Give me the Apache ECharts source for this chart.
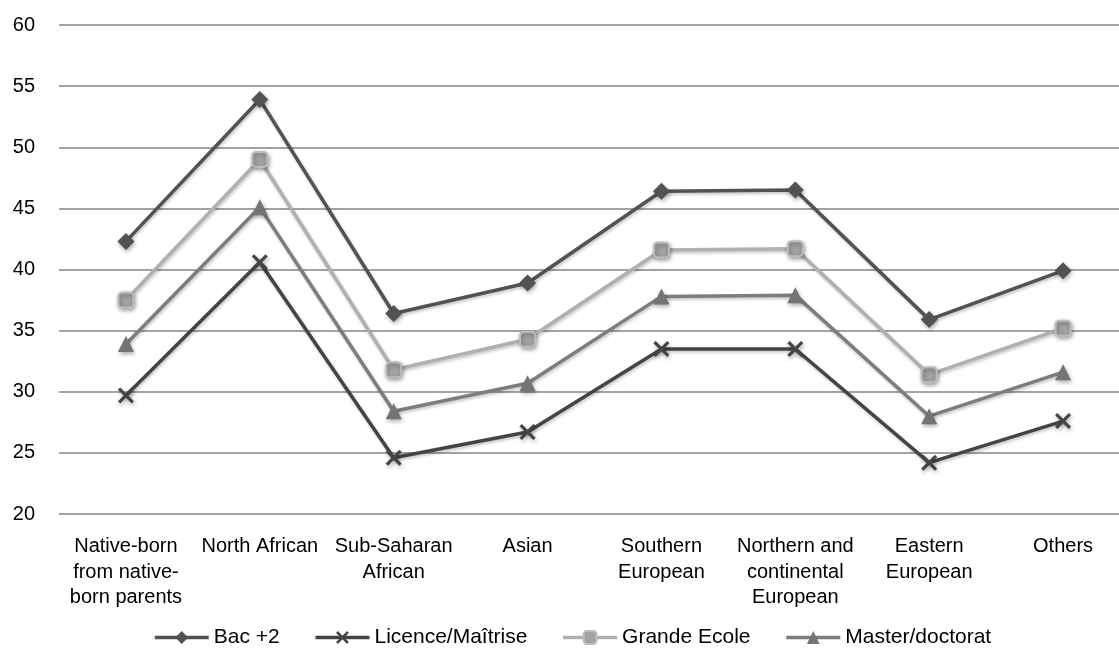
<!DOCTYPE html>
<html>
<head>
<meta charset="utf-8">
<script src="https://cdn.jsdelivr.net/npm/echarts@6/dist/echarts.min.js"></script>
<style>
html,body{margin:0;padding:0;background:#fff;}
#chart{width:1119px;height:664px;}
</style>
</head>
<body>
<div id="chart"></div>
<script>
const categories = ['Native-born\nfrom native-\nborn parents', 'North African', 'Sub-Saharan\nAfrican', 'Asian', 'Southern\nEuropean', 'Northern and\ncontinental\nEuropean', 'Eastern\nEuropean', 'Others'];
const seriesNames = ['Bac +2', 'Licence/Maîtrise', 'Grande Ecole', 'Master/doctorat'];
const bac2 = [42.3, 53.9, 36.4, 38.9, 46.4, 46.5, 35.9, 39.9];
const licence = [29.7, 40.6, 24.6, 26.7, 33.5, 33.5, 24.2, 27.6];
const grandeEcole = [37.5, 49.0, 31.8, 34.3, 41.6, 41.7, 31.4, 35.2];
const master = [33.9, 45.1, 28.4, 30.7, 37.8, 37.9, 28.0, 31.6];
const yTicks = [20, 25, 30, 35, 40, 45, 50, 55, 60];

const FONT = "'Liberation Sans', Arial, sans-serif";
const xPath = 'path://M0,1.4 L1.4,0 L5,3.6 L8.6,0 L10,1.4 L6.4,5 L10,8.6 L8.6,10 L5,6.4 L1.4,10 L0,8.6 L3.6,5 Z';

const markerShadow = {shadowBlur: 4, shadowColor: 'rgba(0,0,0,0.35)', shadowOffsetX: 1, shadowOffsetY: 2};
const lineShadow = {shadowBlur: 3, shadowColor: 'rgba(0,0,0,0.22)', shadowOffsetX: 1, shadowOffsetY: 2};

function mk(name, data, color, symbol, size, extraItem) {
  return {
    name: name, type: 'line', data: data,
    symbol: symbol, symbolSize: size,
    lineStyle: Object.assign({color: color, width: 3.5}, lineShadow),
    itemStyle: Object.assign({color: color}, markerShadow, extraItem || {}),
    emphasis: {disabled: true},
    animation: false
  };
}

const chart = echarts.init(document.getElementById('chart'), null, {renderer: 'canvas'});
chart.setOption({
  backgroundColor: '#ffffff',
  animation: false,
  grid: {left: 59, top: 25, width: 1071, height: 489, containLabel: false, outerBoundsMode: 'none'},
  legend: {
    bottom: 11, left: 148,
    itemWidth: 54, itemHeight: 16, itemGap: 34,
    lineStyle: {width: 3.5},
    textStyle: {fontFamily: FONT, fontSize: 21, color: '#000'},
    data: seriesNames
  },
  xAxis: {
    type: 'category', data: categories, boundaryGap: true,
    axisLine: {show: false}, axisTick: {show: false},
    axisLabel: {fontFamily: FONT, fontSize: 20, color: '#000', lineHeight: 25.5, margin: 20, interval: 0, verticalAlign: 'top'}
  },
  yAxis: {
    type: 'value', min: yTicks[0], max: yTicks[yTicks.length - 1], interval: 5,
    axisLine: {show: false}, axisTick: {show: false},
    axisLabel: {fontFamily: FONT, fontSize: 20, color: '#000', margin: 24},
    splitLine: {lineStyle: {color: '#a3a3a3', width: 2}}
  },
  series: [
    mk(seriesNames[0], bac2, '#525252', 'diamond', 17),
    mk(seriesNames[1], licence, '#444444', xPath, 16),
    mk(seriesNames[2], grandeEcole, '#b0b0b0', 'roundRect', 15, {color: '#a2a2a2', borderColor: '#bdbdbd', borderWidth: 2}),
    mk(seriesNames[3], master, '#7d7d7d', 'triangle', 16, {color: '#747474'})
  ]
});
</script>
</body>
</html>
